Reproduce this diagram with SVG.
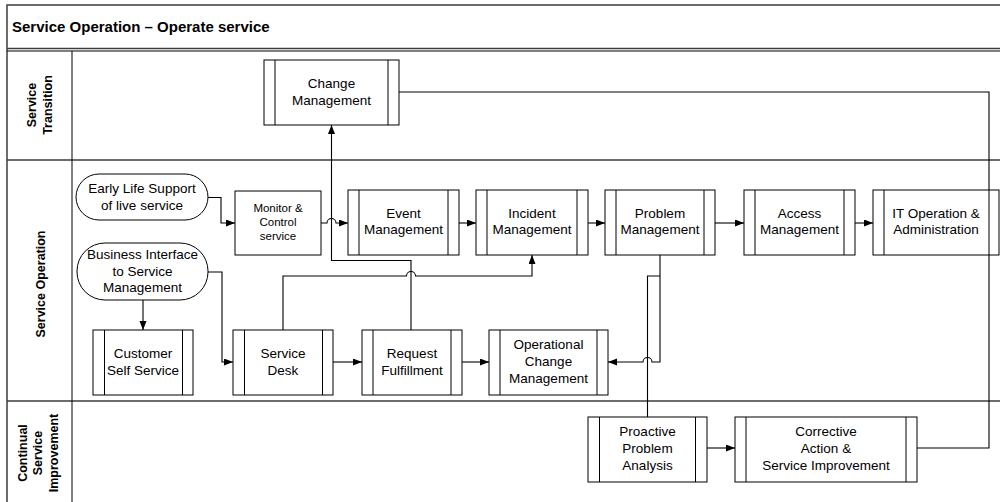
<svg xmlns="http://www.w3.org/2000/svg" width="1000" height="502" viewBox="0 0 1000 502">
  <style>
    .lane { fill: none; stroke: #3c3c3c; stroke-width: 1.5; }
    .thin { fill: none; stroke: #000; stroke-width: 1; }
    .box { fill: #fff; stroke: #000; stroke-width: 1; }
    .bar { stroke: #000; stroke-width: 1; }
    .conn { fill: none; stroke: #000; stroke-width: 1.1; }
    .arrow { marker-end: url(#head); }
    text { font-family: "Liberation Sans", Arial, sans-serif; fill: #000; }
    .t { font-size: 13.5px; text-anchor: middle; }
    .ts { font-size: 11.5px; text-anchor: middle; }
    .lbl { font-size: 12.5px; font-weight: bold; text-anchor: middle; }
    .title { font-size: 15px; font-weight: bold; }
  </style>
  <defs>
    <marker id="head" markerUnits="userSpaceOnUse" markerWidth="10" markerHeight="8" refX="9" refY="3.5" orient="auto">
      <path d="M0,0 L9,3.5 L0,7 z" fill="#000"/>
    </marker>
  </defs>

  <rect width="1000" height="502" fill="#fff"/>

  <!-- pool frame, title bar and lanes -->
  <g id="pool">
    <rect class="lane" x="7" y="5" width="1010" height="510"/>
    <line class="lane" x1="7" y1="48.5" x2="1000" y2="48.5"/>
    <line class="thin" x1="7" y1="51" x2="1000" y2="51"/>
    <line class="lane" x1="7" y1="160" x2="1000" y2="160"/>
    <line class="lane" x1="7" y1="401" x2="1000" y2="401"/>
    <line class="thin" x1="72" y1="51" x2="72" y2="502"/>
    <text class="title" x="12" y="32">Service Operation – Operate service</text>
  </g>

  <g id="lane-service-transition">
    <text class="lbl" transform="translate(36,105) rotate(-90)">Service</text>
    <text class="lbl" transform="translate(52,105) rotate(-90)">Transition</text>
  </g>
  <g id="lane-service-operation">
    <text class="lbl" transform="translate(45,284) rotate(-90)">Service Operation</text>
  </g>
  <g id="lane-continual-service-improvement">
    <text class="lbl" transform="translate(27,453) rotate(-90)">Continual</text>
    <text class="lbl" transform="translate(42,453) rotate(-90)">Service</text>
    <text class="lbl" transform="translate(58,453) rotate(-90)">Improvement</text>
  </g>

  <!-- connectors -->
  <g id="connectors">
    <!-- Early Life Support -> Monitor & Control -->
    <path class="conn arrow" d="M208,197.5 H221 V223 H235"/>
    <!-- Monitor & Control -> Event Management (hops the vertical line) -->
    <path class="conn arrow" d="M321,223 H327 a4.5,4.5 0 0 1 9,0 H348"/>
    <path class="conn arrow" d="M459,223 H476"/>
    <path class="conn arrow" d="M588,223 H605"/>
    <path class="conn arrow" d="M715,223 H744"/>
    <path class="conn arrow" d="M855,223 H873"/>
    <!-- Request Fulfillment -> Change Management -->
    <path class="conn arrow" d="M411,330 V260.5 H331.5 V125"/>
    <!-- Service Desk -> Incident Management -->
    <path class="conn arrow" d="M283,330 V276 H406.5 a4.5,4.5 0 0 1 9,0 H532 V255"/>
    <!-- Business Interface -> Service Desk / Customer Self Service -->
    <path class="conn arrow" d="M208,272 H222 V362 H233"/>
    <path class="conn arrow" d="M143,300 V330"/>
    <path class="conn arrow" d="M333,362 H362"/>
    <path class="conn arrow" d="M462,362 H489"/>
    <!-- Problem Management -> Operational Change Management -->
    <path class="conn arrow" d="M660,255 V362 H652 a4.5,4.5 0 0 0 -9,0 H608"/>
    <!-- Proactive Problem Analysis link -->
    <path class="conn" d="M647.5,417 V276 H660"/>
    <path class="conn arrow" d="M707,448 H735"/>
    <!-- Change Management ... Corrective Action loop -->
    <path class="conn" d="M399,92 H989 V448 H917"/>
  </g>

  <!-- nodes -->
  <g id="change-management">
    <rect class="box" x="264" y="60" width="135" height="65"/>
    <line class="bar" x1="275" y1="60" x2="275" y2="125"/>
    <line class="bar" x1="388" y1="60" x2="388" y2="125"/>
    <text class="t" x="331.5" y="88">Change</text>
    <text class="t" x="331.5" y="105">Management</text>
  </g>

  <g id="early-life-support">
    <rect class="box" x="76" y="174" width="132" height="46" rx="23" ry="23"/>
    <text class="t" x="142" y="193">Early Life Support</text>
    <text class="t" x="142" y="210">of live service</text>
  </g>

  <g id="business-interface">
    <rect class="box" x="77" y="243" width="131" height="57" rx="28" ry="28"/>
    <text class="t" x="142.5" y="259">Business Interface</text>
    <text class="t" x="142.5" y="276">to Service</text>
    <text class="t" x="142.5" y="292">Management</text>
  </g>

  <g id="monitor-control-service">
    <rect class="box" x="235" y="191" width="86" height="64"/>
    <text class="ts" x="278" y="212">Monitor &amp;</text>
    <text class="ts" x="278" y="226">Control</text>
    <text class="ts" x="278" y="240">service</text>
  </g>

  <g id="event-management">
    <rect class="box" x="348" y="190" width="111" height="65"/>
    <line class="bar" x1="359" y1="190" x2="359" y2="255"/>
    <line class="bar" x1="448" y1="190" x2="448" y2="255"/>
    <text class="t" x="403.5" y="218">Event</text>
    <text class="t" x="403.5" y="234">Management</text>
  </g>

  <g id="incident-management">
    <rect class="box" x="476" y="190" width="112" height="65"/>
    <line class="bar" x1="487" y1="190" x2="487" y2="255"/>
    <line class="bar" x1="577" y1="190" x2="577" y2="255"/>
    <text class="t" x="532" y="218">Incident</text>
    <text class="t" x="532" y="234">Management</text>
  </g>

  <g id="problem-management">
    <rect class="box" x="605" y="190" width="110" height="65"/>
    <line class="bar" x1="616" y1="190" x2="616" y2="255"/>
    <line class="bar" x1="704" y1="190" x2="704" y2="255"/>
    <text class="t" x="660" y="218">Problem</text>
    <text class="t" x="660" y="234">Management</text>
  </g>

  <g id="access-management">
    <rect class="box" x="744" y="190" width="111" height="65"/>
    <line class="bar" x1="755" y1="190" x2="755" y2="255"/>
    <line class="bar" x1="844" y1="190" x2="844" y2="255"/>
    <text class="t" x="799.5" y="218">Access</text>
    <text class="t" x="799.5" y="234">Management</text>
  </g>

  <g id="it-operation-administration">
    <rect class="box" x="873" y="190" width="126" height="65"/>
    <line class="bar" x1="884" y1="190" x2="884" y2="255"/>
    <line class="bar" x1="989" y1="190" x2="989" y2="255"/>
    <text class="t" x="936" y="218">IT Operation &amp;</text>
    <text class="t" x="936" y="234">Administration</text>
  </g>

  <g id="customer-self-service">
    <rect class="box" x="93" y="330" width="100" height="65"/>
    <line class="bar" x1="104.5" y1="330" x2="104.5" y2="395"/>
    <line class="bar" x1="182.5" y1="330" x2="182.5" y2="395"/>
    <text class="t" x="143" y="358">Customer</text>
    <text class="t" x="143" y="375">Self Service</text>
  </g>

  <g id="service-desk">
    <rect class="box" x="233" y="330" width="100" height="65"/>
    <line class="bar" x1="244.5" y1="330" x2="244.5" y2="395"/>
    <line class="bar" x1="322.5" y1="330" x2="322.5" y2="395"/>
    <text class="t" x="283" y="358">Service</text>
    <text class="t" x="283" y="375">Desk</text>
  </g>

  <g id="request-fulfillment">
    <rect class="box" x="362" y="330" width="100" height="65"/>
    <line class="bar" x1="373" y1="330" x2="373" y2="395"/>
    <line class="bar" x1="451" y1="330" x2="451" y2="395"/>
    <text class="t" x="412" y="358">Request</text>
    <text class="t" x="412" y="375">Fulfillment</text>
  </g>

  <g id="operational-change-management">
    <rect class="box" x="489" y="330" width="119" height="65"/>
    <line class="bar" x1="500" y1="330" x2="500" y2="395"/>
    <line class="bar" x1="597" y1="330" x2="597" y2="395"/>
    <text class="t" x="548.5" y="349">Operational</text>
    <text class="t" x="548.5" y="366">Change</text>
    <text class="t" x="548.5" y="383">Management</text>
  </g>

  <g id="proactive-problem-analysis">
    <rect class="box" x="588" y="417" width="119" height="65"/>
    <line class="bar" x1="599.5" y1="417" x2="599.5" y2="482"/>
    <line class="bar" x1="695.5" y1="417" x2="695.5" y2="482"/>
    <text class="t" x="647.5" y="436">Proactive</text>
    <text class="t" x="647.5" y="453">Problem</text>
    <text class="t" x="647.5" y="470">Analysis</text>
  </g>

  <g id="corrective-action-service-improvement">
    <rect class="box" x="735" y="417" width="182" height="65"/>
    <line class="bar" x1="746" y1="417" x2="746" y2="482"/>
    <line class="bar" x1="906" y1="417" x2="906" y2="482"/>
    <text class="t" x="826" y="436">Corrective</text>
    <text class="t" x="826" y="453">Action &amp;</text>
    <text class="t" x="826" y="470">Service Improvement</text>
  </g>
</svg>
